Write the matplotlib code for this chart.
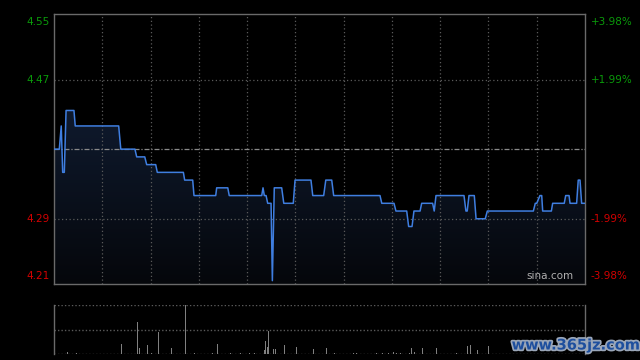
import numpy as np
import matplotlib
matplotlib.use("Agg")
import matplotlib.pyplot as plt
from matplotlib.patches import Polygon
from matplotlib.colors import LinearSegmentedColormap
import matplotlib.patheffects as pe

# ---- data ----
prev_close = 4.38
price_ticks = [4.55, 4.47, 4.29, 4.21]
pct_ticks = ["+3.98%", "+1.99%", "-1.99%", "-3.98%"]
price_colors = ["#0a9a0a", "#0a9a0a", "#d40000", "#d40000"]

times = [0, 3.3, 4.5, 5.4, 6.4, 7.5, 12.4, 13.2, 40.2, 41.5, 50.3, 51.4, 56.4, 57.6,
         63.2, 64.2, 80.4, 81.2, 86.2, 87.0, 100.5, 101.1, 108.0, 108.9, 129.1, 129.9,
         130.7, 131.8, 132.8, 134.9, 135.7, 136.9, 141.5, 142.8, 148.7, 149.8, 159.7,
         160.8, 167.6, 168.9, 172.6, 173.8, 202.6, 203.7, 211.3, 212.5, 219.2, 220.4,
         222.5, 223.7, 227.5, 228.5, 235.3, 236.3, 237.4, 254.8, 256.0, 256.8, 257.9,
         261.2, 262.3, 268.0, 269.3, 297.9, 299.1, 300.0, 302.0, 303.1, 303.7, 309.1,
         309.9, 317.1, 318.0, 320.1, 320.7, 324.8, 325.8, 326.9, 327.9, 330]
prices = [4.38, 4.38, 4.41, 4.35, 4.35, 4.43, 4.43, 4.41, 4.41, 4.38, 4.38, 4.37, 4.37, 4.36,
          4.36, 4.35, 4.35, 4.34, 4.34, 4.32, 4.32, 4.33, 4.33, 4.32, 4.32, 4.33,
          4.32, 4.32, 4.31, 4.31, 4.21, 4.33, 4.33, 4.31, 4.31, 4.34, 4.34,
          4.32, 4.32, 4.34, 4.34, 4.32, 4.32, 4.31, 4.31, 4.30, 4.30, 4.28,
          4.28, 4.30, 4.30, 4.31, 4.31, 4.30, 4.32, 4.32, 4.30, 4.30, 4.32,
          4.32, 4.29, 4.29, 4.30, 4.30, 4.31, 4.31, 4.32, 4.32, 4.30, 4.30,
          4.31, 4.31, 4.32, 4.32, 4.31, 4.31, 4.34, 4.34, 4.31, 4.31]

vol_times = [5.6, 8.3, 13.9, 41.8, 51.8, 53.0, 58.0, 60.5, 64.8, 72.9, 81.6, 87.6, 98.4,
             101.5, 109.6, 115.8, 121.4, 124.5, 130.7, 131.3, 132.6, 133.2, 136.3, 137.5,
             143.1, 150.6, 161.1, 169.2, 174.2, 186.0, 187.9, 200.3, 204.0, 207.8, 210.9,
             212.7, 215.2, 220.8, 222.1, 223.9, 228.9, 237.6, 250.0, 257.1, 259.0, 263.3,
             270.2]
volumes = [3, 5, 3, 21, 65, 13, 19, 3, 45, 13, 100, 3, 3,
           21, 3, 3, 3, 3, 9, 27, 15, 47, 11, 11,
           19, 15, 11, 13, 3, 3, 3, 3, 3, 3, 5,
           3, 3, 3, 13, 5, 13, 13, 3, 17, 19, 9,
           17]

# ---- figure ----
fig = plt.figure(figsize=(6.4, 3.6), dpi=100, facecolor="black")
W, H = 640.0, 360.0
ax = fig.add_axes([54 / W, (H - 284) / H, 531 / W, 269.7 / H])
axv = fig.add_axes([54 / W, (H - 354.3) / H, 531 / W, 49.6 / H])

ymin = prev_close * (1 - 0.0398)
ymax = prev_close * (1 + 0.0398)
xmax = 330

for a in (ax, axv):
    a.set_facecolor("black")
    a.set_xticks([])
    a.set_yticks([])

grid_col = "#5a5a5a"
# gradient fill under price line
verts = list(zip(times, prices)) + [(times[-1], ymin), (times[0], ymin)]
poly = Polygon(verts, closed=True, facecolor="none", edgecolor="none")
ax.add_patch(poly)
grad = np.linspace(0, 1, 256).reshape(-1, 1)
cmap = LinearSegmentedColormap.from_list("g", ["#05070b", "#0f1a2e"])
im = ax.imshow(grad, extent=[0, xmax, ymin, max(prices)], origin="lower",
               aspect="auto", cmap=cmap, zorder=1)
im.set_clip_path(poly)

# grid
for k in range(1, 11):
    ax.axvline(30 * k, color=grid_col, lw=0.9, ls=(0, (1, 2)), zorder=2)
ax.axhline(price_ticks[1], color=grid_col, lw=0.9, ls=(0, (1, 2)), zorder=2)
ax.axhline(price_ticks[2], color=grid_col, lw=0.9, ls=(0, (1, 2)), zorder=2)
ax.axhline(prev_close, color="#8a8a8a", lw=0.9, ls=(0, (4, 1.5, 1, 1.5)), zorder=2)

ax.plot(times, prices, color="#3f7ee0", lw=1.1, zorder=3, solid_joinstyle="round")

ax.set_xlim(0, xmax)
ax.set_ylim(ymin, ymax)
for s in ax.spines.values():
    s.set_color("#6a6a6a")
    s.set_linewidth(1.0)

# axis labels
tick_vals = [ymax, price_ticks[1], price_ticks[2], ymin]
vas = ["top", "center", "center", "bottom"]
offs = [-2, 0, 0, 2]
for v, lab, pl, col, va, o in zip(tick_vals, price_ticks, pct_ticks, price_colors, vas, offs):
    ax.annotate(f"{lab:.2f}", xy=(0, v), xycoords=("axes fraction", "data"),
                xytext=(-3, o), textcoords="offset points", ha="right", va=va,
                color=col, fontsize=7.5, family="DejaVu Sans")
    ax.annotate(pl, xy=(1, v), xycoords=("axes fraction", "data"),
                xytext=(4, o), textcoords="offset points", ha="left", va=va,
                color=col, fontsize=7.5, family="DejaVu Sans")

ax.text(0.978, 0.012, "sina.com", transform=ax.transAxes, ha="right", va="bottom",
        color="#b0b0b0", fontsize=7.5, zorder=5)

# volume
axv.bar(vol_times, volumes, width=0.6, color="#808080", zorder=3)
axv.set_xlim(0, xmax)
axv.set_ylim(0, 100)
for yv in (0, 50, 100):
    axv.axhline(yv, color=grid_col, lw=1.0, ls=(0, (1, 1.5)), zorder=2)
axv.spines["top"].set_visible(False)
axv.spines["bottom"].set_visible(False)
for s in ("left", "right"):
    axv.spines[s].set_color("#6a6a6a")
    axv.spines[s].set_linewidth(1.0)

fig.text(576 / W, 1 - 345 / H, "www.365jz.com", ha="center", va="center",
         color="#1e4f9e", fontsize=10.5, fontweight="bold", zorder=10,
         path_effects=[pe.withStroke(linewidth=2.5, foreground="#9aa6b8")])

fig.savefig("out.png", dpi=100, facecolor="black")
